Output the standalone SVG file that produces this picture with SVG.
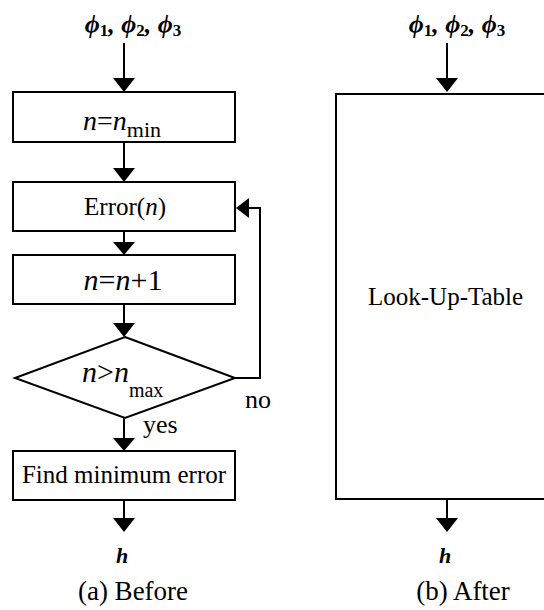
<svg xmlns="http://www.w3.org/2000/svg" width="544" height="610" viewBox="0 0 544 610">
<style>
.box{fill:#fff;stroke:#000;stroke-width:2}
.ln{fill:none;stroke:#000;stroke-width:2}
.hd{fill:#000}
text{fill:#000}
.it{font-style:italic}
.bi{font-style:italic;font-weight:bold}
</style>
<rect width="544" height="610" fill="#fff"/>
<g id="connectors">
  <line class="ln" x1="124" y1="43" x2="124" y2="80"/>
  <polygon class="hd" points="113,78 135,78 124,92"/>
  <line class="ln" x1="124" y1="142" x2="124" y2="170"/>
  <polygon class="hd" points="113,168 135,168 124,182"/>
  <line class="ln" x1="124" y1="231" x2="124" y2="244"/>
  <polygon class="hd" points="113,242 135,242 124,255"/>
  <line class="ln" x1="124" y1="304" x2="124" y2="325"/>
  <polygon class="hd" points="113,323 135,323 124,337"/>
  <line class="ln" x1="124" y1="418" x2="124" y2="440"/>
  <polygon class="hd" points="113,438 135,438 124,451"/>
  <line class="ln" x1="124" y1="500" x2="124" y2="520"/>
  <polygon class="hd" points="113,518 135,518 124,532"/>
  <polyline class="ln" points="235,378 260,378 260,208 248,208"/>
  <polygon class="hd" points="249,198 249,218 236,208"/>
  <line class="ln" x1="447" y1="43" x2="447" y2="80"/>
  <polygon class="hd" points="436,78 458,78 447,92"/>
  <line class="ln" x1="447" y1="499" x2="447" y2="520"/>
  <polygon class="hd" points="436,518 458,518 447,532"/>
</g>
<g id="in-a" font-family="Liberation Serif, DejaVu Serif, serif">
  <text class="bi" x="133" y="33" font-size="26" text-anchor="middle">ϕ<tspan dy="3" font-size="17" font-style="normal">1</tspan><tspan dy="-3">, ϕ</tspan><tspan dy="3" font-size="17" font-style="normal">2</tspan><tspan dy="-3">, ϕ</tspan><tspan dy="3" font-size="17" font-style="normal">3</tspan></text>
</g>
<g id="init" font-family="Liberation Serif, DejaVu Serif, serif">
  <rect class="box" x="13" y="92" width="222" height="50"/>
  <text x="83" y="130" font-size="28"><tspan class="it">n</tspan>=<tspan class="it">n</tspan><tspan font-size="22" dy="7">min</tspan></text>
</g>
<g id="error" font-family="Liberation Serif, DejaVu Serif, serif">
  <rect class="box" x="13" y="182" width="222" height="49"/>
  <text x="125" y="215" font-size="25" text-anchor="middle">Error(<tspan class="it">n</tspan>)</text>
</g>
<g id="incr" font-family="Liberation Serif, DejaVu Serif, serif">
  <rect class="box" x="13" y="255" width="222" height="49"/>
  <text x="123" y="290" font-size="30" text-anchor="middle"><tspan class="it">n</tspan>=<tspan class="it">n</tspan>+1</text>
</g>
<g id="decision" font-family="Liberation Serif, DejaVu Serif, serif">
  <polygon class="box" points="125,337 235,378 125,418 15,378"/>
  <text x="82" y="382" font-size="30"><tspan class="it">n</tspan>&gt;<tspan class="it">n</tspan><tspan font-size="20" dy="15">max</tspan></text>
  <text x="245" y="408" font-size="26">no</text>
  <text x="143" y="433" font-size="26">yes</text>
</g>
<g id="findmin" font-family="Liberation Serif, DejaVu Serif, serif">
  <rect class="box" x="13" y="451" width="222" height="49"/>
  <text x="124" y="483" font-size="25" text-anchor="middle">Find minimum error</text>
</g>
<g id="out-a" font-family="Liberation Serif, DejaVu Serif, serif">
  <text class="bi" x="122" y="563" font-size="22" text-anchor="middle">h</text>
  <text x="133" y="600" font-size="27" text-anchor="middle">(a) Before</text>
</g>
<g id="in-b" font-family="Liberation Serif, DejaVu Serif, serif">
  <text class="bi" x="457" y="33" font-size="26" text-anchor="middle">ϕ<tspan dy="3" font-size="17" font-style="normal">1</tspan><tspan dy="-3">, ϕ</tspan><tspan dy="3" font-size="17" font-style="normal">2</tspan><tspan dy="-3">, ϕ</tspan><tspan dy="3" font-size="17" font-style="normal">3</tspan></text>
</g>
<g id="lut" font-family="Liberation Serif, DejaVu Serif, serif">
  <rect class="box" x="336" y="94" width="230" height="405"/>
  <text x="368" y="305" font-size="25">Look-Up-Table</text>
</g>
<g id="out-b" font-family="Liberation Serif, DejaVu Serif, serif">
  <text class="bi" x="445" y="563" font-size="22" text-anchor="middle">h</text>
  <text x="463" y="600" font-size="27" text-anchor="middle">(b) After</text>
</g>
</svg>
